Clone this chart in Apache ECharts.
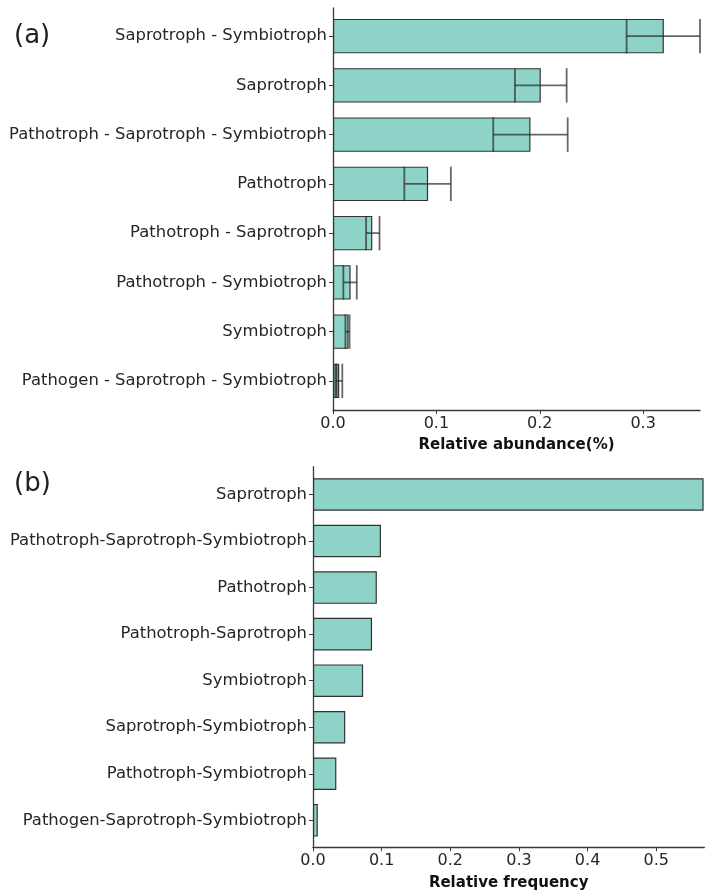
<!DOCTYPE html>
<html>
<head>
<meta charset="utf-8">
<script src="https://cdn.jsdelivr.net/npm/echarts@6/dist/echarts.min.js"></script>
<style>html,body{margin:0;padding:0;background:#fff}#c{width:708px;height:895px}</style>
</head>
<body>
<div id="c"></div>
<script>
// Panel (a): relative abundance with error bars
const catsA = ['Saprotroph - Symbiotroph', 'Saprotroph', 'Pathotroph - Saprotroph - Symbiotroph', 'Pathotroph', 'Pathotroph - Saprotroph', 'Pathotroph - Symbiotroph', 'Symbiotroph', 'Pathogen - Saprotroph - Symbiotroph'];
const meanA = [0.320, 0.201, 0.191, 0.092, 0.038, 0.017, 0.015, 0.006];
const lowA  = [0.284, 0.176, 0.155, 0.069, 0.032, 0.010, 0.012, 0.003];
const highA = [0.355, 0.226, 0.227, 0.114, 0.045, 0.023, 0.016, 0.009];
const ticksA = [0, 0.1, 0.2, 0.3];
const maxA = 0.355;

// Panel (b): relative frequency
const catsB = ['Saprotroph', 'Pathotroph-Saprotroph-Symbiotroph', 'Pathotroph', 'Pathotroph-Saprotroph', 'Symbiotroph', 'Saprotroph-Symbiotroph', 'Pathotroph-Symbiotroph', 'Pathogen-Saprotroph-Symbiotroph'];
const valB = [0.569, 0.099, 0.093, 0.086, 0.073, 0.047, 0.034, 0.007];
const ticksB = [0, 0.1, 0.2, 0.3, 0.4, 0.5];
const maxB = 0.57;

const FONT = 'DejaVu Sans';
const TXT = '#262626';
const AX = '#3a3a3a';
const BAR = '#8dd3c7';
const EDGE = '#333333';

const chart = echarts.init(document.getElementById('c'), null, {renderer: 'canvas'});

function frameX(gridIndex, max, ticks, name) {
  return {
    gridIndex, type: 'value', min: 0, max: max,
    axisLine: {show: true, lineStyle: {color: AX, width: 1.3}},
    axisTick: {show: true, length: 4, lineStyle: {color: AX}, customValues: ticks},
    axisLabel: {show: true, margin: 6, fontFamily: FONT, fontSize: 16, color: TXT,
      customValues: ticks, formatter: v => v.toFixed(1)},
    splitLine: {show: false},
    name: name, nameLocation: 'middle', nameGap: 28,
    nameTextStyle: {fontFamily: FONT, fontSize: 15, fontWeight: 'bold', color: '#111'}
  };
}
function frameY(gridIndex) {
  return {
    gridIndex, type: 'value', min: 0, max: 1,
    axisLine: {show: true, onZero: false, lineStyle: {color: AX, width: 1.3}},
    axisTick: {show: false}, axisLabel: {show: false}, splitLine: {show: false}
  };
}
function barX(gridIndex, max) {
  return {gridIndex, type: 'value', min: 0, max: max, show: false, splitLine: {show: false}};
}
function barY(gridIndex, cats) {
  return {
    gridIndex, type: 'category', data: cats, inverse: true,
    axisLine: {show: false},
    axisTick: {show: true, alignWithLabel: true, length: 4, lineStyle: {color: AX}},
    axisLabel: {margin: 6, fontFamily: FONT, fontSize: 16.4, color: TXT},
    splitLine: {show: false}
  };
}

const option = {
  animation: false,
  backgroundColor: '#fff',
  grid: [
    {left: 333, right: 8, top: 8, height: 402},        // frame a
    {left: 333, right: 8, top: 11.5, height: 394},     // bars a
    {left: 313, right: 3.7, top: 466.7, height: 380.6},// frame b
    {left: 313, right: 3.7, top: 471.2, height: 372.4} // bars b
  ],
  xAxis: [
    frameX(0, maxA, ticksA, 'Relative abundance(%)'),
    barX(1, maxA),
    frameX(2, maxB, ticksB, 'Relative frequency'),
    barX(3, maxB)
  ],
  yAxis: [frameY(0), barY(1, catsA), frameY(2), barY(3, catsB)],
  graphic: [
    {type: 'text', left: 14, top: 23, style: {text: '(a)', font: '26px "DejaVu Sans"', fill: '#222'}},
    {type: 'text', left: 14, top: 471, style: {text: '(b)', font: '26px "DejaVu Sans"', fill: '#222'}}
  ],
  series: [
    {
      type: 'bar', xAxisIndex: 1, yAxisIndex: 1, barCategoryGap: '30%',
      data: meanA.map((v, i) => ({value: v, itemStyle: i === meanA.length - 1 ? {color: '#5f978b'} : undefined})),
      itemStyle: {color: BAR, borderColor: EDGE, borderWidth: 1.2}
    },
    {
      type: 'custom', xAxisIndex: 1, yAxisIndex: 1,
      data: lowA.map((l, i) => [l, highA[i], i]),
      encode: {x: [0, 1], y: 2},
      renderItem: function (params, api) {
        const idx = api.value(2);
        const p0 = api.coord([api.value(0), idx]);
        const p1 = api.coord([api.value(1), idx]);
        const h = api.size([0, 1])[1] * 0.7 / 2;
        const st = {stroke: 'rgba(40,40,40,0.7)', lineWidth: 1.8};
        return {type: 'group', children: [
          {type: 'line', shape: {x1: p0[0], y1: p0[1], x2: p1[0], y2: p1[1]}, style: st},
          {type: 'line', shape: {x1: p0[0], y1: p0[1] - h, x2: p0[0], y2: p0[1] + h}, style: st},
          {type: 'line', shape: {x1: p1[0], y1: p1[1] - h, x2: p1[0], y2: p1[1] + h}, style: st}
        ]};
      },
      z: 5
    },
    {
      type: 'bar', xAxisIndex: 3, yAxisIndex: 3, barCategoryGap: '30%',
      data: valB,
      itemStyle: {color: BAR, borderColor: EDGE, borderWidth: 1.2}
    }
  ]
};
chart.setOption(option);
</script>
</body>
</html>
